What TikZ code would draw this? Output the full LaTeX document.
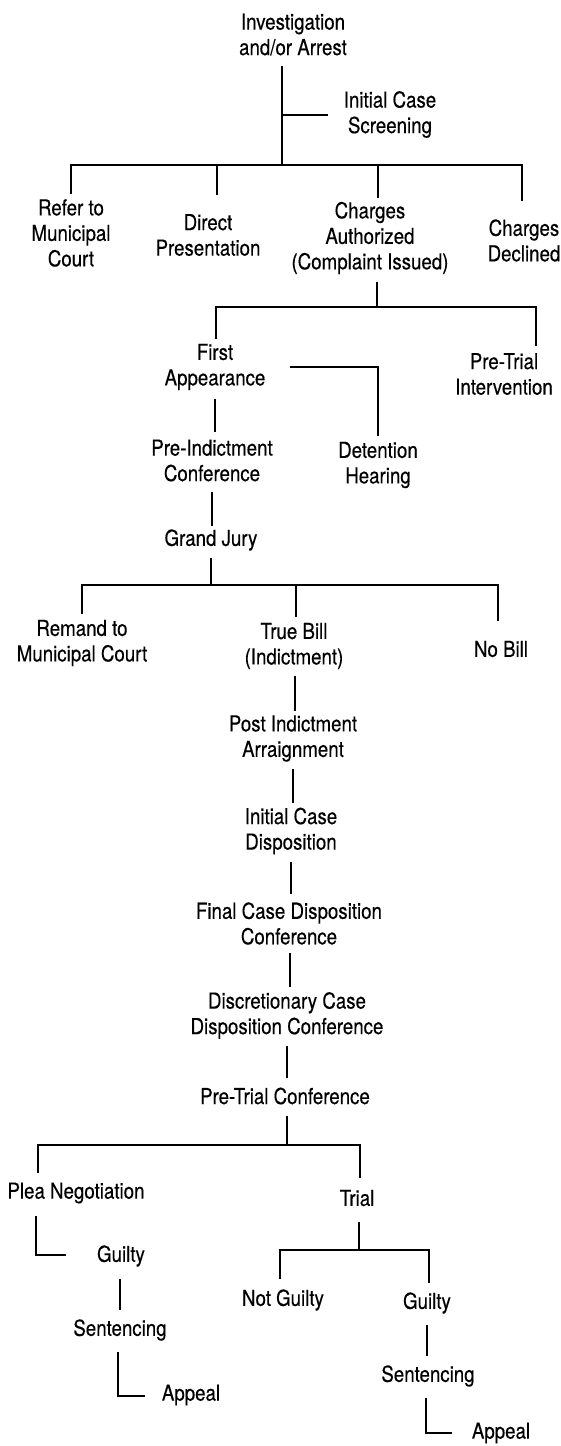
\documentclass[tikz,border=0pt]{standalone}
\usepackage{fontspec}
\setmainfont{TeX Gyre Heros}[FakeStretch=0.85,FakeBold=0.35]
\begin{document}
\begin{tikzpicture}[x=1pt,y=-1pt,
  lbl/.style={inner sep=0pt, align=center, font=\fontsize{22}{25.5}\selectfont},
  ln/.style={line width=1.7pt, line cap=rect, line join=miter}]
\useasboundingbox (0,0) rectangle (561,1446);
% nodes
\node[lbl] (inv) at (293,34.5) {Investigation\\and/or Arrest};
\node[lbl] (ics) at (390,114.5) {Initial Case\\Screening};
\node[lbl] (ref) at (71,233) {Refer to\\Municipal\\Court};
\node[lbl] (dir) at (208,235) {Direct\\Presentation};
\node[lbl] (cha) at (370,238) {Charges\\Authorized\\(Complaint Issued)};
\node[lbl] (dec) at (524,240.5) {Charges\\Declined};
\node[lbl] (fa) at (215,367) {First\\Appearance};
\node[lbl] (pti) at (504,374) {Pre-Trial\\Intervention};
\node[lbl] (det) at (378,465) {Detention\\Hearing};
\node[lbl] (pic) at (212,460.5) {Pre-Indictment\\Conference};
\node[lbl] (gj) at (211,540) {Grand Jury};
\node[lbl] (rem) at (82,643) {Remand to\\Municipal Court};
\node[lbl] (tb) at (294,646) {True Bill\\(Indictment)};
\node[lbl] (nb) at (501,649) {No Bill};
\node[lbl] (pia) at (293,738.5) {Post Indictment\\Arraignment};
\node[lbl] (icd) at (291,831) {Initial Case\\Disposition};
\node[lbl] (fcd) at (289,923.5) {Final Case Disposition\\Conference};
\node[lbl] (dcd) at (287,1015.5) {Discretionary Case\\Disposition Conference};
\node[lbl] (ptc) at (285,1096) {Pre-Trial Conference};
\node[lbl] (pn) at (76,1193) {Plea Negotiation};
\node[lbl] (tr) at (357,1198) {Trial};
\node[lbl] (g1) at (121,1256) {Guilty};
\node[lbl] (s1) at (120,1330) {Sentencing};
\node[lbl] (a1) at (191,1395) {Appeal};
\node[lbl] (ng) at (283,1300) {Not Guilty};
\node[lbl] (g2) at (427,1303) {Guilty};
\node[lbl] (s2) at (428,1376) {Sentencing};
\node[lbl] (a2) at (501,1433) {Appeal};
% junction coordinates
\coordinate (j1) at (282,165);
\coordinate (j2) at (377,307);
\coordinate (j3) at (211,585);
\coordinate (j4) at (287,1145);
\coordinate (j5) at (359,1250);
% connectors
\draw[ln] (282,67) -- (j1);
\draw[ln] (282,115) -- (327,115);
\draw[ln] (71,193) -- (71,165) -- (522,165) -- (522,200);
\draw[ln] (217,165) -- (217,194);
\draw[ln] (378,165) -- (378,197);
\draw[ln] (377,283) -- (j2);
\draw[ln] (216,338) -- (216,307) -- (536,307) -- (536,345);
\draw[ln] (291,367) -- (378,367) -- (378,435);
\draw[ln] (215,400) -- (215,431);
\draw[ln] (212,493) -- (212,525);
\draw[ln] (211,559) -- (j3);
\draw[ln] (82,613) -- (82,585) -- (498,585) -- (498,620);
\draw[ln] (296,585) -- (296,616);
\draw[ln] (295,677) -- (295,710);
\draw[ln] (293,770) -- (293,802);
\draw[ln] (291,863) -- (291,893);
\draw[ln] (290,954) -- (290,986);
\draw[ln] (287,1047) -- (287,1077);
\draw[ln] (287,1117) -- (j4);
\draw[ln] (38,1172) -- (38,1145) -- (360,1145) -- (360,1177);
\draw[ln] (36,1217) -- (36,1255) -- (65,1255);
\draw[ln] (120,1280) -- (120,1309);
\draw[ln] (118,1353) -- (118,1396) -- (144,1396);
\draw[ln] (359,1223) -- (j5);
\draw[ln] (280,1278) -- (280,1250) -- (429,1250) -- (429,1282);
\draw[ln] (427,1326) -- (427,1355);
\draw[ln] (426,1399) -- (426,1433) -- (451,1433);
\end{tikzpicture}
\end{document}
